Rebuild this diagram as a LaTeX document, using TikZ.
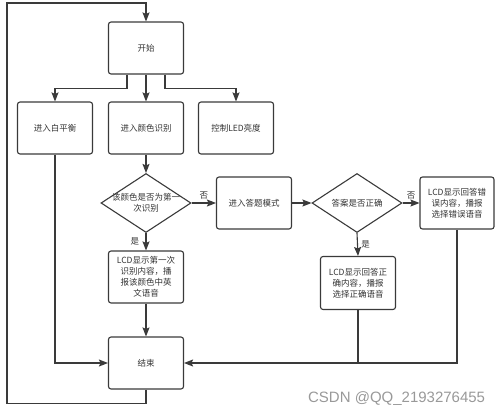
\documentclass[tikz,border=0pt]{standalone}
\usepackage{fontspec}
\setmainfont{Noto Sans CJK SC}
\newfontfamily\wmfont{Liberation Sans}
\usetikzlibrary{arrows, arrows.meta, shapes.geometric, positioning}
\tikzset{>={Stealth[length=9pt, width=7pt, inset=1.5pt]}}
\definecolor{linegray}{HTML}{3A3A3A}

\begin{document}
\begin{tikzpicture}[x=1pt, y=-1pt, line width=1.1pt, draw=linegray,
    box/.style={draw=linegray, rounded corners=2.5pt, minimum width=75pt, minimum height=52pt,
        inner sep=1pt, align=center, font=\fontsize{8.5}{11}\selectfont, text=black!80},
    dia/.style={draw=linegray, diamond, minimum width=90pt, minimum height=59pt, inner sep=0pt},
    lbl/.style={font=\fontsize{8.5}{11}\selectfont, text=black!80, align=center}]
		\useasboundingbox (0,0) rectangle (500,415);
		\node[box] (A1) at (146,48) {开始};
		\node[box] (B1) at (55,128) {进入白平衡};
		\node[box] (B2) at (146,128) {进入颜色识别};
		\node[box] (B3) at (236,128) {控制LED亮度};
		\node[dia, label={[lbl]center:该颜色是否为第一\\次识别}] (C1) at (146,203) {};
		\node[box] (C2) at (254,203) {进入答题模式};
		\node[dia, label={[lbl]center:答案是否正确}] (C3) at (357,203) {};
		\node[box, minimum width=74pt] (C4) at (457,203) {LCD显示回答错\\误内容，播报\\选择错误语音};
		\node[box] (D1) at (146,277) {LCD显示第一次\\识别内容，播\\报该颜色中英\\文语音};
		\node[box, minimum height=53pt] (D3) at (358,283) {LCD显示回答正\\确内容，播报\\选择正确语音};
		\node[box] (E1) at (146,363) {结束};
		\coordinate (P1) at (7,3);
		%branches
		\draw [->]([xshift=-19pt]A1.south) -- ++(0,14) -| (B1.north);
		\draw [->](A1.south) -- (B2.north);
		\draw [->]([xshift=19pt]A1.south) -- ++(0,14) -| (B3.north);
		\draw [->](B2.south) -- (C1.north);
		\draw [->](C1.east) -- node[lbl, above]{否} (C2.west);
		\draw [->](C1.south) -- node[lbl, left, xshift=-3pt]{是} (D1.north);
		\draw [->](C2.east) -- (C3.west);
		\draw [->](C3.east) -- node[lbl, above]{否} (C4.west);
		\draw [->](C3.south) -- node[lbl, right]{是} (D3.north);
		%to end
		\draw [->](D1.south) -- (E1.north);
		\draw [->](B1.south) |- (E1.west);
		\draw [->](C4.south) |- (E1.east);
		\draw (D3.south) -- (D3.south |- E1.east);
		\draw [->](E1.south) -- ++(0,14) -| (P1) -| (A1.north);
		\node[anchor=east, font=\wmfont\fontsize{15}{15}\selectfont, text=black!40] (W1) at (489,399) {CSDN @QQ\_2193276455};
		\end{tikzpicture}
\end{document}
